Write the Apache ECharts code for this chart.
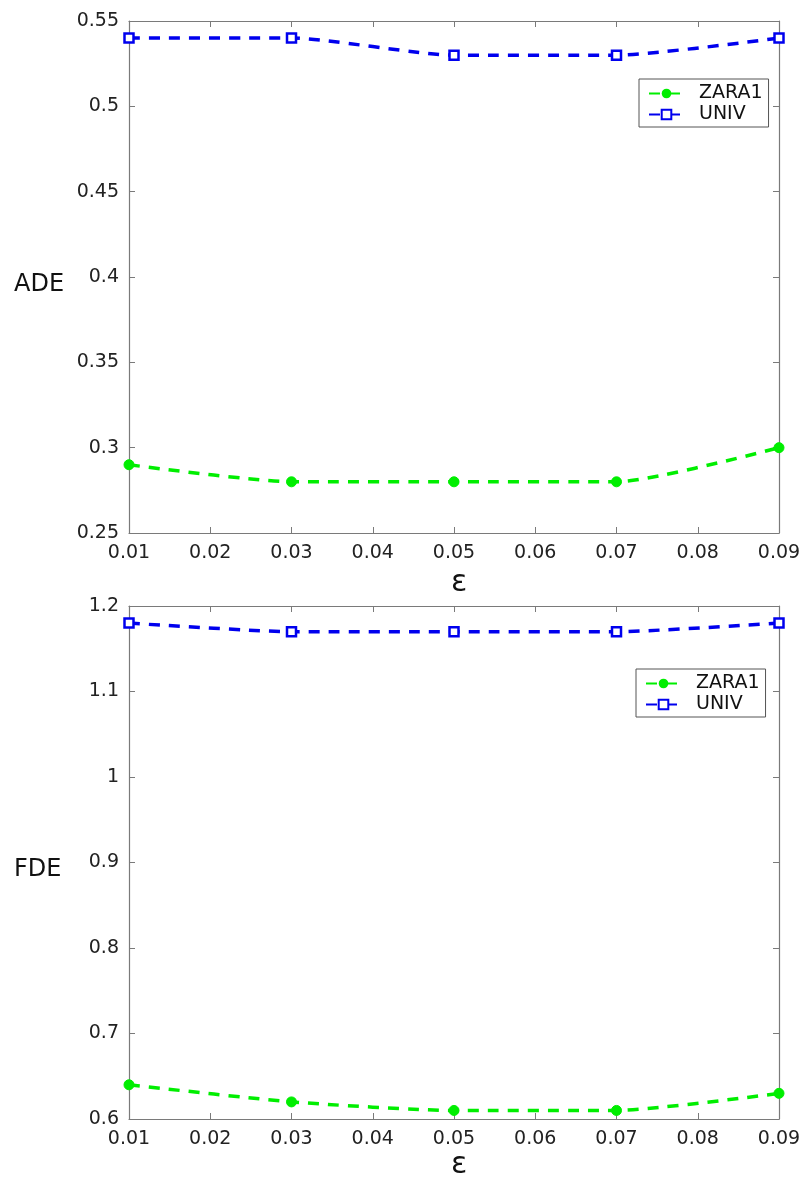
<!DOCTYPE html>
<html><head><meta charset="utf-8">
<script src="https://cdn.jsdelivr.net/npm/echarts@6/dist/echarts.min.js"></script>
<style>html,body{margin:0;padding:0;background:#fff}#c{width:805px;height:1179px}</style>
</head><body><div id="c"></div>
<script>
const eps = [0.01, 0.03, 0.05, 0.07, 0.09];
const adeZara = [0.29, 0.28, 0.28, 0.28, 0.30];
const adeUniv = [0.54, 0.54, 0.53, 0.53, 0.54];
const fdeZara = [0.64, 0.62, 0.61, 0.61, 0.63];
const fdeUniv = [1.18, 1.17, 1.17, 1.17, 1.18];
const seriesNames = ['ZARA1', 'UNIV'];
const yNames = ['ADE', 'FDE'];
const xName = 'ε';

const FONT = '"DejaVu Sans", sans-serif';
const AX = '#7a7a7a';
const fmt = v => String(parseFloat(Number(v).toFixed(2)));
const pairs = arr => eps.map((x, i) => [x, arr[i]]);

function xAx(grid, pos, labels) {
  return {
    type: 'value', gridIndex: grid, position: pos, min: 0.01, max: 0.09, interval: 0.01,
    axisLine: { show: true, lineStyle: { color: AX, width: 1.2 } },
    axisTick: { show: true, inside: true, length: 6, lineStyle: { color: AX } },
    axisLabel: { show: labels, margin: 11, fontSize: 19, color: '#222', fontFamily: FONT, formatter: v => Number(v).toFixed(2) },
    splitLine: { show: false }
  };
}
function yAx(grid, pos, labels, min, max, interval) {
  return {
    type: 'value', gridIndex: grid, position: pos, min: min, max: max, interval: interval,
    axisLine: { show: true, onZero: false, lineStyle: { color: AX, width: 1.2 } },
    axisTick: { show: true, inside: true, length: 6, lineStyle: { color: AX } },
    axisLabel: { show: labels, margin: 10, fontSize: 19, color: '#222', fontFamily: FONT, formatter: fmt },
    splitLine: { show: false }
  };
}
function zara(data, xi, yi) {
  return {
    name: seriesNames[0], type: 'line', xAxisIndex: xi, yAxisIndex: yi, data: pairs(data),
    smooth: 0.2, symbol: 'circle', symbolSize: 10,
    lineStyle: { color: '#00ee00', width: 3.5, type: [11, 9] },
    itemStyle: { color: '#00ee00', borderColor: '#00ee00' }
  };
}
function univ(data, xi, yi) {
  return {
    name: seriesNames[1], type: 'line', xAxisIndex: xi, yAxisIndex: yi, data: pairs(data),
    smooth: 0.2, symbol: 'rect', symbolSize: 9,
    lineStyle: { color: '#0000ee', width: 3.5, type: [11, 9] },
    itemStyle: { color: '#ffffff', borderColor: '#0000ee', borderWidth: 2.5 }
  };
}
function legend(left, top) {
  return {
    data: seriesNames, orient: 'vertical', left: left, top: top,
    itemWidth: 35, itemHeight: 12, itemGap: 2, padding: [5, 6, 3, 9],
    borderColor: '#555', borderWidth: 1, backgroundColor: '#fff', borderRadius: 0,
    textStyle: { fontSize: 19, color: '#111', fontFamily: FONT, padding: [0, 0, 0, 10] }
  };
}
function label(text, x, y, size, align) {
  return { type: 'text', x: x, y: y, style: { text: text, fontSize: size, fill: '#111', fontFamily: FONT, textAlign: align, textVerticalAlign: 'middle' } };
}

const chart = echarts.init(document.getElementById('c'), null, { renderer: 'canvas' });
chart.setOption({
  animation: false,
  backgroundColor: '#fff',
  grid: [
    { left: 129, top: 21, width: 650, height: 512 },
    { left: 129, top: 606, width: 650, height: 513 }
  ],
  xAxis: [xAx(0, 'bottom', true), xAx(0, 'top', false), xAx(1, 'bottom', true), xAx(1, 'top', false)],
  yAxis: [
    yAx(0, 'left', true, 0.25, 0.55, 0.05), yAx(0, 'right', false, 0.25, 0.55, 0.05),
    yAx(1, 'left', true, 0.6, 1.2, 0.1), yAx(1, 'right', false, 0.6, 1.2, 0.1)
  ],
  legend: [legend(639, 79), legend(636, 669)],
  graphic: [
    label(yNames[0], 14, 285, 24, 'left'),
    label(yNames[1], 14, 870, 24, 'left'),
    label(xName, 459, 583, 30, 'center'),
    label(xName, 459, 1165, 30, 'center')
  ],
  series: [
    zara(adeZara, 0, 0), univ(adeUniv, 0, 0),
    zara(fdeZara, 2, 2), univ(fdeUniv, 2, 2)
  ]
});
</script></body></html>
